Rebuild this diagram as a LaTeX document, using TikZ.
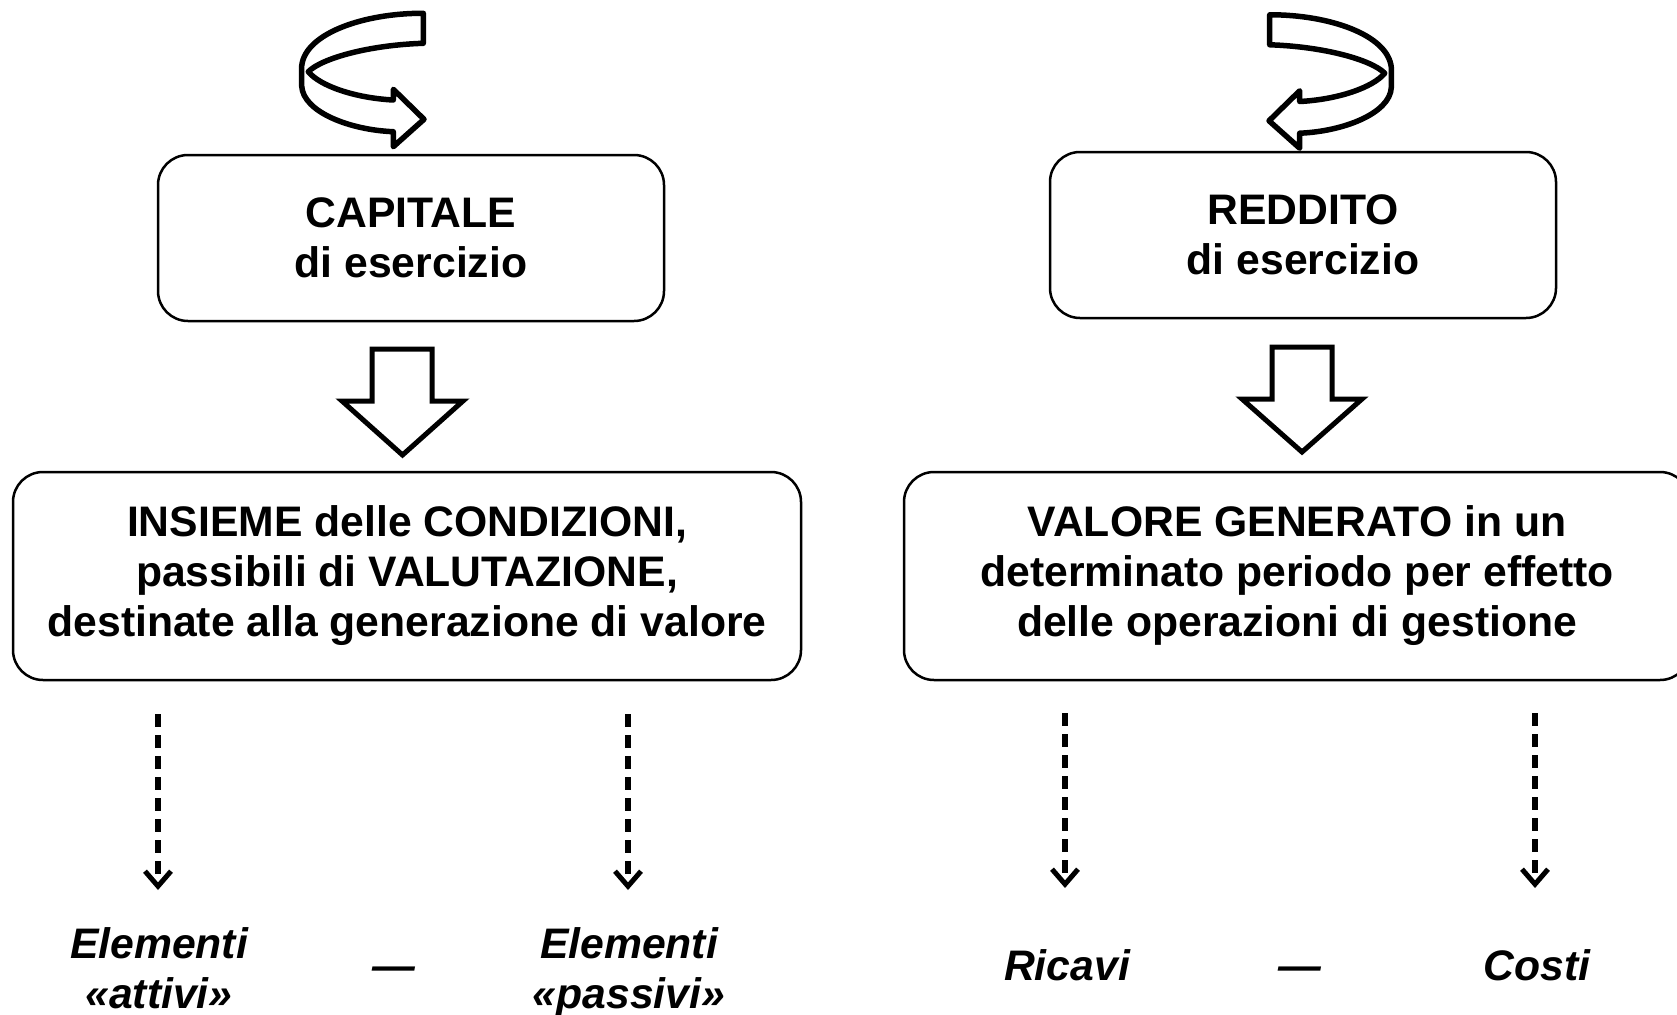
\documentclass[tikz,border=0pt]{standalone}
\usepackage{fontspec}
\setmainfont{Liberation Sans}
\usetikzlibrary{arrows.meta}
\tikzset{
  box/.style={draw, line width=2.5pt, rounded corners=30pt, inner sep=0pt, align=center,
    font=\bfseries\fontsize{42.7}{50}\selectfont},
  blockarrow/.style={draw, line width=5pt, fill=white, line join=miter, miter limit=10},
  curl/.style={draw, line width=5.5pt, fill=white, line join=round},
  dasharr/.style={line width=6pt, dash pattern=on 13pt off 8pt,
    -{Straight Barb[length=15pt,width=26pt,line width=5pt]}},
  lab/.style={font=\bfseries\itshape\fontsize{42.7}{50}\selectfont, align=center, inner sep=0pt},
  curlarrow/.pic={
    \path[curl] (423.3,13.3) .. controls (365,13) and (305,33) .. (301.7,66)
      -- (301.7,86) .. controls (303,112) and (350,130) .. (393.3,131.7)
      -- (393.3,146.7) -- (424,119.3) -- (393.3,89.3) -- (393.3,100)
      .. controls (355,98) and (320,86) .. (308.3,71.7)
      .. controls (322,58) and (370,45) .. (423.3,43.3) -- cycle;
  }
}
\begin{document}
\begin{tikzpicture}[x=1pt, y=-1pt]
\useasboundingbox (0,0) rectangle (1677,1014);
\clip (0,0) rectangle (1677,1014);
\fill[white] (0,0) rectangle (1677,1014);

% curved arrows
\pic at (0,0) {curlarrow};
\pic[xscale=-1] at (1693,1.5) {curlarrow};

% top boxes
\node[box, minimum width=506pt, minimum height=166pt] (cap) at (411,238) {CAPITALE\\di esercizio};
\node[box, minimum width=506pt, minimum height=166pt] (red) at (1303,235) {REDDITO\\di esercizio};

% block arrows
\path[blockarrow] (372,349) -- (432,349) -- (432,401) -- (463,401) -- (402.5,455) -- (342,401) -- (372,401) -- cycle;
\path[blockarrow] (1272,347) -- (1332,347) -- (1332,399) -- (1362,399) -- (1302,452) -- (1242,399) -- (1272,399) -- cycle;

% middle boxes
\node[box, minimum width=788pt, minimum height=208pt] (ins) at (407,576)
  {INSIEME delle CONDIZIONI,\\passibili di VALUTAZIONE,\\destinate alla generazione di valore};
\node[box, minimum width=786pt, minimum height=208pt] (val) at (1297,576)
  {VALORE GENERATO in un\\determinato periodo per effetto\\delle operazioni di gestione};

% labels
\node[lab] (el1) at (159,968) {Elementi\\«attivi»};
\node[lab] (el2) at (629,972) {Elementi\\«passivi»};
\node[lab, anchor=base] (meno1) at (394,980) {—};
\node[lab, anchor=base] (ric) at (1067,980) {Ricavi};
\node[lab, anchor=base] (meno2) at (1300,980) {—};
\node[lab, anchor=base] (cos) at (1537,980) {Costi};

% dashed arrows
\coordinate (t1) at (158,890);
\coordinate (t2) at (628,890);
\coordinate (t3) at (1065,888);
\coordinate (t4) at (1535,888);
\draw[dasharr, shorten <=33pt] (ins.south -| t1) -- (t1);
\draw[dasharr, shorten <=33pt] (ins.south -| t2) -- (t2);
\draw[dasharr, shorten <=32pt] (val.south -| t3) -- (t3);
\draw[dasharr, shorten <=32pt] (val.south -| t4) -- (t4);
\end{tikzpicture}
\end{document}
